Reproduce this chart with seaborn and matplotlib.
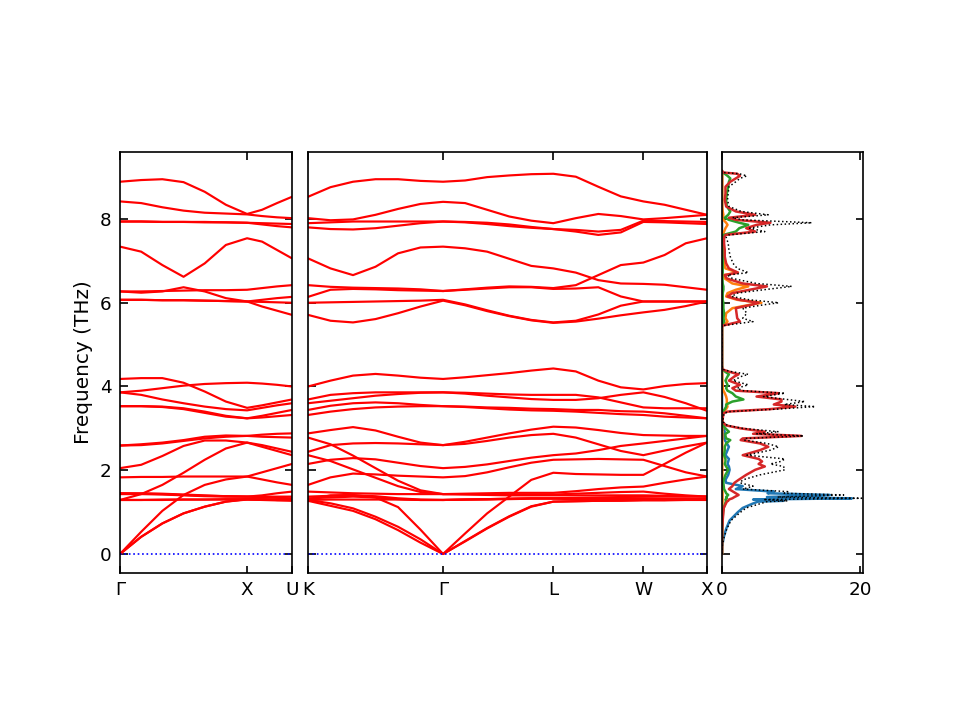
import matplotlib
matplotlib.use("Agg")
import matplotlib.pyplot as plt
import numpy as np
import pandas as pd
import seaborn as sns

# ---------------- data ----------------
# k-path distances (units of 2*pi/a), FCC path
left_k = [0.0, 0.1667, 0.3333, 0.5, 0.6667, 0.8333, 1.0, 1.1179, 1.2357, 1.3536]
left_ticks = [0.0, 1.0, 1.3536]
left_labels = ["Γ", "X", "U"]

mid_k = [0.0, 0.1768, 0.3536, 0.5303, 0.7071, 0.8839, 1.0607,
         1.2339, 1.4071, 1.5803, 1.7535, 1.9267,
         2.1035, 2.2802, 2.4570, 2.6338,
         2.8005, 2.9671, 3.1338]
mid_ticks = [0.0, 1.0607, 1.9267, 2.6338, 3.1338]
mid_labels = ["K", "Γ", "L", "W", "X"]

# frequencies (THz) along Γ-X-U
left_bands = [
    [8.89, 8.93, 8.95, 8.88, 8.65, 8.34, 8.12, 8.22, 8.38, 8.53],
    [8.42, 8.38, 8.28, 8.20, 8.15, 8.13, 8.11, 8.07, 8.04, 8.02],
    [7.94, 7.94, 7.93, 7.93, 7.93, 7.92, 7.91, 7.90, 7.89, 7.88],
    [7.94, 7.94, 7.93, 7.93, 7.92, 7.92, 7.91, 7.87, 7.83, 7.80],
    [7.34, 7.22, 6.90, 6.62, 6.94, 7.38, 7.54, 7.46, 7.26, 7.06],
    [6.27, 6.24, 6.27, 6.37, 6.27, 6.11, 6.03, 5.91, 5.81, 5.71],
    [6.27, 6.27, 6.28, 6.29, 6.30, 6.30, 6.31, 6.35, 6.39, 6.42],
    [6.07, 6.07, 6.06, 6.06, 6.05, 6.04, 6.03, 6.07, 6.11, 6.14],
    [6.07, 6.07, 6.06, 6.06, 6.05, 6.04, 6.03, 6.02, 6.01, 6.00],
    [4.18, 4.20, 4.20, 4.09, 3.88, 3.64, 3.49, 3.55, 3.62, 3.69],
    [3.86, 3.90, 3.96, 4.02, 4.06, 4.08, 4.09, 4.07, 4.04, 4.00],
    [3.86, 3.80, 3.69, 3.60, 3.52, 3.46, 3.43, 3.49, 3.55, 3.60],
    [3.53, 3.53, 3.52, 3.48, 3.40, 3.30, 3.24, 3.30, 3.37, 3.44],
    [3.53, 3.53, 3.51, 3.46, 3.37, 3.28, 3.24, 3.26, 3.29, 3.32],
    [2.59, 2.62, 2.66, 2.72, 2.80, 2.83, 2.82, 2.85, 2.87, 2.88],
    [2.59, 2.60, 2.64, 2.70, 2.76, 2.80, 2.82, 2.80, 2.79, 2.78],
    [2.05, 2.13, 2.34, 2.58, 2.71, 2.71, 2.66, 2.60, 2.52, 2.44],
    [1.29, 1.43, 1.65, 1.94, 2.25, 2.52, 2.66, 2.56, 2.46, 2.36],
    [0.00, 0.53, 1.03, 1.41, 1.65, 1.78, 1.85, 1.95, 2.05, 2.15],
    [1.83, 1.84, 1.84, 1.85, 1.85, 1.85, 1.85, 1.78, 1.71, 1.65],
    [1.45, 1.45, 1.44, 1.42, 1.40, 1.38, 1.37, 1.40, 1.45, 1.49],
    [1.45, 1.44, 1.43, 1.41, 1.39, 1.38, 1.37, 1.37, 1.37, 1.37],
    [1.43, 1.43, 1.42, 1.40, 1.38, 1.37, 1.37, 1.35, 1.34, 1.33],
    [1.29, 1.29, 1.29, 1.30, 1.30, 1.30, 1.30, 1.30, 1.29, 1.29],
    [1.29, 1.29, 1.30, 1.30, 1.30, 1.31, 1.31, 1.30, 1.29, 1.29],
    [0.00, 0.41, 0.73, 0.97, 1.13, 1.25, 1.30, 1.29, 1.28, 1.27],
    [0.00, 0.41, 0.73, 0.97, 1.13, 1.25, 1.31, 1.31, 1.30, 1.29],
]

# frequencies (THz) along K-Γ-L-W-X
mid_bands = [
    [8.53, 8.76, 8.89, 8.95, 8.95, 8.91, 8.89, 8.92, 9.00, 9.04, 9.07, 9.08, 9.01, 8.77, 8.54, 8.42, 8.34, 8.22, 8.10],
    [8.02, 7.97, 7.99, 8.10, 8.24, 8.36, 8.41, 8.38, 8.22, 8.06, 7.96, 7.90, 8.02, 8.12, 8.07, 7.99, 8.02, 8.06, 8.10],
    [7.90, 7.92, 7.94, 7.94, 7.94, 7.94, 7.94, 7.92, 7.88, 7.83, 7.79, 7.76, 7.74, 7.70, 7.74, 7.96, 7.95, 7.94, 7.93],
    [7.80, 7.76, 7.75, 7.78, 7.84, 7.90, 7.94, 7.93, 7.91, 7.87, 7.81, 7.76, 7.70, 7.62, 7.68, 7.93, 7.92, 7.90, 7.88],
    [7.06, 6.82, 6.66, 6.86, 7.18, 7.32, 7.34, 7.30, 7.22, 7.05, 6.88, 6.82, 6.72, 6.54, 6.46, 6.45, 6.43, 6.37, 6.31],
    [6.42, 6.38, 6.36, 6.35, 6.34, 6.32, 6.28, 6.32, 6.36, 6.39, 6.38, 6.35, 6.42, 6.66, 6.90, 6.96, 7.14, 7.42, 7.54],
    [6.14, 6.31, 6.33, 6.32, 6.30, 6.29, 6.28, 6.31, 6.34, 6.37, 6.37, 6.33, 6.34, 6.37, 6.15, 6.03, 6.03, 6.03, 6.03],
    [6.00, 6.01, 6.02, 6.03, 6.04, 6.05, 6.07, 5.96, 5.82, 5.69, 5.59, 5.53, 5.57, 5.72, 5.93, 6.03, 6.03, 6.03, 6.03],
    [5.71, 5.57, 5.53, 5.61, 5.75, 5.91, 6.05, 5.94, 5.80, 5.68, 5.58, 5.52, 5.55, 5.62, 5.70, 5.77, 5.83, 5.92, 6.03],
    [4.00, 4.14, 4.26, 4.30, 4.26, 4.21, 4.18, 4.22, 4.27, 4.32, 4.38, 4.43, 4.36, 4.14, 3.98, 3.93, 4.01, 4.06, 4.08],
    [3.69, 3.80, 3.84, 3.86, 3.86, 3.86, 3.86, 3.85, 3.83, 3.81, 3.80, 3.80, 3.80, 3.74, 3.62, 3.50, 3.48, 3.48, 3.48],
    [3.60, 3.66, 3.72, 3.78, 3.82, 3.85, 3.86, 3.83, 3.78, 3.74, 3.70, 3.68, 3.68, 3.72, 3.80, 3.86, 3.75, 3.60, 3.42],
    [3.44, 3.54, 3.60, 3.62, 3.60, 3.56, 3.53, 3.52, 3.50, 3.49, 3.47, 3.46, 3.44, 3.44, 3.41, 3.40, 3.36, 3.30, 3.24],
    [3.32, 3.40, 3.46, 3.50, 3.52, 3.53, 3.53, 3.51, 3.48, 3.45, 3.43, 3.42, 3.40, 3.37, 3.34, 3.32, 3.28, 3.26, 3.24],
    [2.88, 2.96, 3.03, 2.95, 2.80, 2.66, 2.60, 2.68, 2.78, 2.88, 2.97, 3.04, 3.02, 2.96, 2.89, 2.84, 2.83, 2.82, 2.82],
    [2.44, 2.60, 2.64, 2.65, 2.64, 2.62, 2.60, 2.63, 2.70, 2.78, 2.84, 2.87, 2.78, 2.62, 2.46, 2.36, 2.47, 2.57, 2.66],
    [2.15, 2.25, 2.29, 2.26, 2.18, 2.10, 2.05, 2.08, 2.14, 2.22, 2.30, 2.36, 2.40, 2.48, 2.58, 2.64, 2.70, 2.76, 2.82],
    [1.65, 1.83, 1.92, 1.90, 1.87, 1.85, 1.83, 1.86, 1.95, 2.07, 2.18, 2.25, 2.26, 2.27, 2.26, 2.25, 2.10, 1.95, 1.85],
    [2.78, 2.62, 2.35, 2.05, 1.75, 1.52, 1.43, 1.44, 1.45, 1.46, 1.46, 1.46, 1.50, 1.55, 1.59, 1.61, 1.70, 1.78, 1.85],
    [2.36, 2.22, 2.02, 1.82, 1.62, 1.48, 1.43, 1.43, 1.43, 1.42, 1.42, 1.42, 1.44, 1.46, 1.48, 1.49, 1.44, 1.40, 1.37],
    [1.49, 1.47, 1.45, 1.44, 1.43, 1.43, 1.43, 1.42, 1.41, 1.40, 1.40, 1.40, 1.40, 1.40, 1.40, 1.40, 1.39, 1.38, 1.37],
    [1.37, 1.39, 1.40, 1.38, 1.33, 1.30, 1.29, 1.30, 1.31, 1.32, 1.33, 1.33, 1.34, 1.35, 1.36, 1.37, 1.37, 1.37, 1.37],
    [1.33, 1.35, 1.37, 1.35, 1.31, 1.29, 1.29, 1.30, 1.31, 1.32, 1.33, 1.33, 1.33, 1.33, 1.33, 1.33, 1.32, 1.32, 1.31],
    [1.29, 1.30, 1.30, 1.30, 1.30, 1.29, 1.29, 1.30, 1.30, 1.31, 1.32, 1.32, 1.31, 1.31, 1.30, 1.30, 1.30, 1.30, 1.30],
    [1.29, 1.40, 1.41, 1.35, 1.12, 0.58, 0.00, 0.49, 0.97, 1.37, 1.77, 1.94, 1.91, 1.90, 1.89, 1.89, 2.15, 2.42, 2.66],
    [1.29, 1.21, 1.09, 0.89, 0.65, 0.35, 0.00, 0.30, 0.61, 0.89, 1.13, 1.25, 1.26, 1.27, 1.28, 1.29, 1.29, 1.30, 1.30],
    [1.27, 1.15, 1.03, 0.83, 0.57, 0.27, 0.00, 0.31, 0.62, 0.90, 1.14, 1.25, 1.26, 1.27, 1.27, 1.28, 1.28, 1.29, 1.29],
]

# phonon DOS (states/THz) vs frequency (THz)
dos_freq = [0.00, 0.20, 0.40, 0.60, 0.80, 1.00, 1.10, 1.20, 1.25, 1.27, 1.30, 1.33, 1.36, 1.41, 1.45,
            1.49, 1.55, 1.62, 1.70, 1.77, 1.89, 2.01, 2.09, 2.15, 2.21, 2.27, 2.36, 2.48, 2.56, 2.64,
            2.72, 2.76, 2.82, 2.87, 2.92, 3.00, 3.07, 3.16, 3.36, 3.40, 3.46, 3.52, 3.57, 3.64, 3.69,
            3.76, 3.84, 3.90, 3.96, 4.04, 4.14, 4.24, 4.29, 4.36, 4.41, 4.50, 5.45, 5.55, 5.63, 5.75,
            5.87, 5.95, 6.00, 6.07, 6.15, 6.23, 6.31, 6.39, 6.46, 6.58, 6.66, 6.72, 6.82, 6.94, 7.10,
            7.26, 7.42, 7.56, 7.62, 7.70, 7.78, 7.86, 7.91, 7.98, 8.03, 8.10, 8.18, 8.30, 8.46, 8.61,
            8.77, 8.89, 8.97, 9.03, 9.08, 9.11, 9.15]
dos_total = [0.00, 0.05, 0.30, 0.70, 1.30, 2.70, 3.50, 5.50, 6.50, 9.50, 6.00, 20.2, 8.00, 17.6, 9.00,
             9.50, 3.00, 4.50, 2.60, 3.00, 5.50, 9.10, 8.90, 7.00, 8.50, 9.10, 3.60, 7.00, 8.20, 6.50,
             3.20, 3.50, 11.8, 5.00, 8.20, 3.00, 0.80, 0.10, 0.30, 1.00, 8.00, 13.5, 9.00, 12.0, 9.40,
             6.00, 9.10, 3.00, 2.20, 3.80, 1.60, 2.80, 3.80, 1.20, 0.10, 0.00, 0.00, 4.50, 3.00, 3.60,
             3.00, 6.00, 8.20, 4.00, 1.40, 2.20, 6.00, 10.1, 5.00, 1.50, 0.80, 3.80, 2.20, 1.60, 1.20,
             1.00, 0.90, 0.60, 1.00, 6.20, 4.00, 7.00, 13.0, 3.00, 1.50, 6.70, 2.80, 1.00, 0.80, 0.90,
             1.00, 2.00, 2.60, 3.60, 2.50, 0.30, 0.00]
dos_blue = [0.00, 0.04, 0.25, 0.60, 1.10, 2.30, 3.00, 4.40, 5.20, 8.90, 4.50, 18.8, 6.50, 15.6, 6.60,
            7.50, 2.00, 3.00, 0.60, 0.50, 0.90, 1.10, 1.00, 0.80, 0.90, 1.00, 0.50, 0.80, 1.00, 0.70,
            0.40, 0.30, 0.30, 0.30, 0.40, 0.20, 0.10, 0.00, 0.00, 0.00, 0.00, 0.00, 0.00, 0.00, 0.00,
            0.00, 0.00, 0.00, 0.00, 0.00, 0.00, 0.00, 0.00, 0.00, 0.00, 0.00, 0.00, 0.00, 0.00, 0.00,
            0.00, 0.00, 0.00, 0.00, 0.00, 0.00, 0.00, 0.00, 0.00, 0.00, 0.00, 0.00, 0.00, 0.00, 0.00,
            0.00, 0.00, 0.00, 0.00, 0.00, 0.00, 0.00, 0.00, 0.00, 0.00, 0.00, 0.00, 0.00, 0.00, 0.00,
            0.00, 0.00, 0.00, 0.00, 0.00, 0.00, 0.00]
dos_orange = [0.00, 0.00, 0.01, 0.02, 0.03, 0.04, 0.05, 0.06, 0.08, 0.08, 0.08, 0.08, 0.08, 0.08, 0.08,
              0.08, 0.06, 0.05, 0.04, 0.04, 0.05, 0.05, 0.05, 0.05, 0.05, 0.05, 0.05, 0.05, 0.05, 0.05,
              0.05, 0.05, 0.05, 0.05, 0.05, 0.05, 0.03, 0.00, 0.05, 0.20, 0.60, 0.80, 0.70, 0.70, 0.70,
              0.60, 0.40, 0.20, 0.10, 0.10, 0.05, 0.05, 0.05, 0.02, 0.00, 0.00, 0.00, 0.80, 0.50, 0.60,
              1.50, 4.00, 5.70, 2.20, 0.60, 0.80, 2.00, 3.80, 1.50, 0.40, 0.20, 2.30, 0.50, 0.30, 0.20,
              0.20, 0.20, 0.10, 0.10, 0.30, 0.50, 0.80, 0.60, 0.20, 0.10, 0.20, 0.10, 0.05, 0.05, 0.05,
              0.05, 0.05, 0.05, 0.05, 0.03, 0.00, 0.00]
dos_green = [0.00, 0.00, 0.02, 0.04, 0.07, 0.15, 0.25, 0.45, 0.55, 0.60, 0.50, 0.70, 0.60, 0.90, 0.60,
             0.50, 0.30, 0.25, 0.20, 0.25, 0.50, 0.90, 0.60, 0.40, 0.50, 0.50, 0.30, 0.40, 0.40, 0.60,
             1.20, 0.60, 0.50, 0.50, 1.00, 0.50, 0.20, 0.05, 0.05, 0.10, 0.40, 0.60, 0.60, 1.50, 3.10,
             2.00, 1.50, 0.80, 0.60, 0.80, 0.50, 0.80, 1.00, 0.40, 0.05, 0.00, 0.00, 0.30, 0.20, 0.30,
             0.20, 0.20, 0.20, 0.10, 0.10, 0.10, 0.20, 0.20, 0.10, 0.05, 0.05, 0.10, 0.10, 0.10, 0.10,
             0.10, 0.10, 0.10, 0.20, 2.00, 2.50, 3.80, 2.50, 1.00, 0.40, 0.90, 1.20, 0.70, 0.60, 0.70,
             0.90, 1.00, 1.20, 0.80, 0.40, 0.05, 0.00]
dos_red = [0.00, 0.01, 0.02, 0.04, 0.10, 0.20, 0.25, 0.55, 0.70, 0.90, 1.00, 1.50, 1.80, 2.40, 2.00,
           1.60, 1.00, 1.50, 1.80, 2.40, 3.50, 4.80, 6.20, 5.30, 5.80, 5.30, 3.00, 5.50, 6.70, 5.50,
           2.70, 3.00, 11.5, 4.50, 6.20, 2.70, 0.60, 0.05, 0.20, 0.80, 7.00, 10.6, 7.50, 8.60, 8.60,
           5.00, 8.20, 2.00, 1.50, 2.60, 1.00, 1.80, 2.40, 0.90, 0.05, 0.00, 0.00, 2.60, 2.20, 2.10,
           2.00, 4.20, 5.30, 2.50, 0.80, 1.50, 4.00, 6.50, 3.00, 0.70, 0.40, 2.30, 1.00, 0.60, 0.40,
           0.40, 0.30, 0.30, 0.50, 4.80, 3.50, 5.00, 7.00, 2.00, 1.00, 4.80, 2.00, 0.60, 0.40, 0.50,
           0.50, 1.20, 2.00, 2.60, 2.20, 0.20, 0.00]

freq_ticks = [0, 2, 4, 6, 8]
dos_ticks = [0, 20]

# ---------------- style ----------------
sns.set_style("ticks")
plt.rcParams["font.family"] = ["DejaVu Sans"]
plt.rcParams.update({
    "axes.edgecolor": "black",
    "axes.linewidth": 1.0,
    "xtick.color": "black",
    "ytick.color": "black",
    "text.color": "black",
    "axes.labelcolor": "black",
    "lines.solid_joinstyle": "round",
    "lines.solid_capstyle": "round",
})


def bands_frame(kpts, bands):
    rows = []
    for i, b in enumerate(bands):
        for kk, f in zip(kpts, b):
            rows.append((i, kk, f))
    return pd.DataFrame(rows, columns=["band", "k", "freq"])


fig = plt.figure(figsize=(8, 6), dpi=120)
bottom, height = 0.20417, 0.58472
axL = fig.add_axes([0.125, bottom, 0.17917, height])
axM = fig.add_axes([0.32083, bottom, 0.415625, height])
axD = fig.add_axes([0.752083, bottom, 0.146875, height])

ylim = (-0.454, 9.600)

for ax, kpts, bands, ticks, labels in [
    (axL, left_k, left_bands, left_ticks, left_labels),
    (axM, mid_k, mid_bands, mid_ticks, mid_labels),
]:
    df = bands_frame(kpts, bands)
    sns.lineplot(data=df, x="k", y="freq", units="band", estimator=None,
                 sort=False, color="red", linewidth=1.3, ax=ax, legend=False)
    ax.axhline(0, color="blue", linestyle=":", linewidth=1.0)
    ax.set_xlim(kpts[0], kpts[-1])
    ax.set_ylim(*ylim)
    ax.set_xticks(ticks)
    ax.set_xticklabels(labels)
    ax.set_yticks(freq_ticks)
    ax.set_xlabel("")
    ax.set_ylabel("")

axL.set_ylabel("Frequency (THz)", fontsize=12)
axM.set_yticklabels([])

# DOS panel
dos_df = pd.DataFrame({
    "freq": dos_freq, "total": dos_total, "blue": dos_blue,
    "orange": dos_orange, "green": dos_green, "red": dos_red,
})
pdos_colors = {"blue": "#1f77b4", "orange": "#ff7f0e", "green": "#2ca02c", "red": "#d62728"}
for name, col in pdos_colors.items():
    sns.lineplot(data=dos_df, x=name, y="freq", orient="y", sort=False, estimator=None,
                 color=col, linewidth=1.5, ax=axD)
sns.lineplot(data=dos_df, x="total", y="freq", orient="y", sort=False, estimator=None,
             color="black", linewidth=0.9, linestyle=":", ax=axD)
axD.set_xlim(0, 20.4)
axD.set_ylim(*ylim)
axD.set_xticks(dos_ticks)
axD.set_yticks(freq_ticks)
axD.set_yticklabels([])
axD.set_xlabel("")
axD.set_ylabel("")

for ax in (axL, axM, axD):
    ax.tick_params(direction="in", top=True, right=True, length=4.5, width=1.0,
                   labelsize=11, pad=5)
    for s in ax.spines.values():
        s.set_visible(True)
        s.set_color("black")
        s.set_linewidth(1.0)

fig.savefig("out.png", dpi=120)
